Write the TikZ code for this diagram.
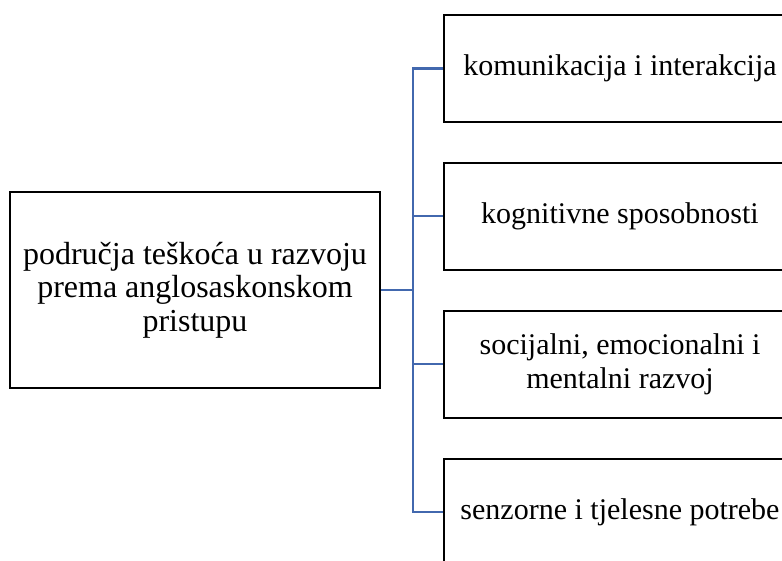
\documentclass[tikz,border=0pt]{standalone}
\usepackage{fontspec}
\setmainfont{Liberation Serif}
\usetikzlibrary{positioning}

\definecolor{linkblue}{RGB}{66,104,174}

\begin{document}
\begin{tikzpicture}[
    x=1pt, y=-1pt,
    node distance=39pt,
    box/.style={draw, line width=1.9pt, align=center, inner sep=0pt,
        font=\fontsize{30}{33.5}\selectfont},
    branch/.style={box, minimum width=352pt, minimum height=107pt},
    link/.style={draw=linkblue, line width=2.2pt}
]
\useasboundingbox (0,0) rectangle (782,561);
\clip (0,0) rectangle (782,561);

% Root
\node (root) [box, minimum width=370pt, minimum height=196pt,
    font=\fontsize{32}{33.5}\selectfont] at (195,290)
    {područja teškoća u razvoju\\prema anglosaskonskom\\pristupu};

% Branches
\node (komunikacija) [branch] at (620,68.5) {komunikacija i interakcija};
\node (kognicija) [branch, below=of komunikacija] {kognitivne sposobnosti};
\node (socijalni) [branch, below=of kognicija] {socijalni, emocionalni i\\mentalni razvoj};
\node (senzorni) [branch, below=of socijalni] {senzorne i tjelesne potrebe};

% Connectors
\coordinate (trunk) at (413,290);
\draw [link] (root.east) -- (trunk);
\draw [link] (trunk) |- (komunikacija.west);
\draw [link] (trunk) |- (kognicija.west);
\draw [link] (trunk) |- (socijalni.west);
\draw [link] (trunk) |- (senzorni.west);

\end{tikzpicture}
\end{document}
